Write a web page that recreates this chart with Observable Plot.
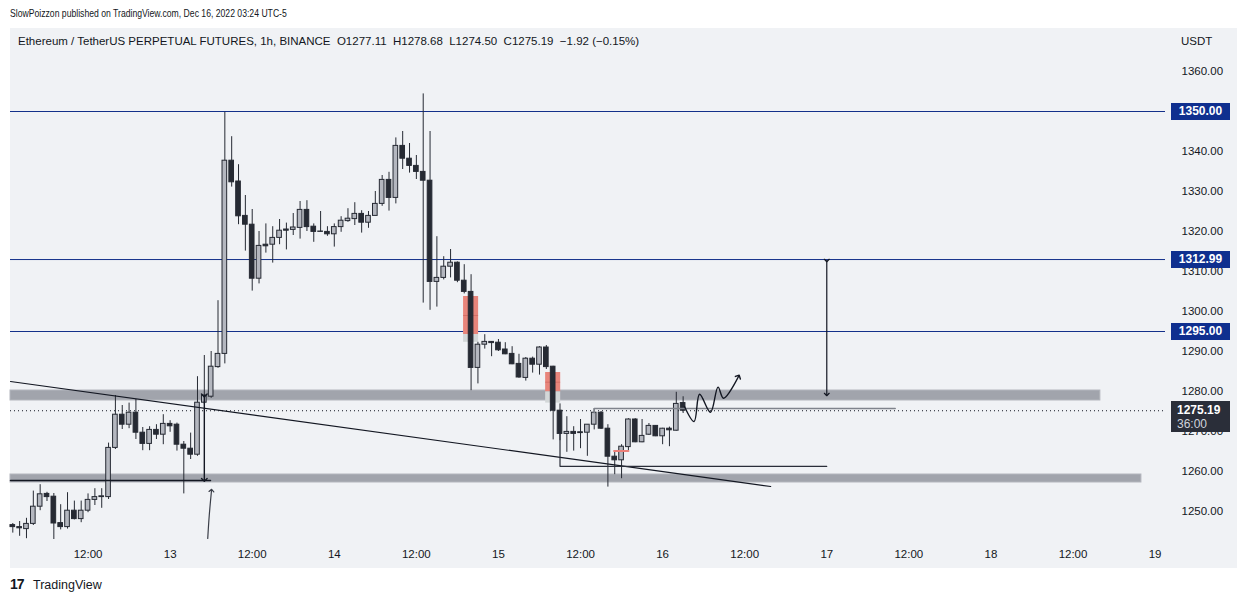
<!DOCTYPE html>
<html><head><meta charset="utf-8">
<script src="https://cdn.jsdelivr.net/npm/d3@7"></script>
<script src="https://cdn.jsdelivr.net/npm/@observablehq/plot@0.6"></script>
<style>
body{margin:0;background:#fff;font-family:"Liberation Sans",Arial,sans-serif;}
#wrap{position:relative;width:1245px;height:602px;overflow:hidden;background:#fff;}
#pub{position:absolute;left:10px;top:7px;font-size:11px;color:#131722;white-space:nowrap;transform:scaleX(0.785);transform-origin:0 0;}
#pane{position:absolute;left:10px;top:28px;width:1227px;height:540px;background:#f0f2f5;}
#chart{position:absolute;left:10px;top:28px;}
#legend{position:absolute;left:18px;top:35px;font-size:11.5px;color:#131722;white-space:nowrap;}
#usdt{position:absolute;left:1181px;top:35px;font-size:11.5px;color:#131722;}
.box{position:absolute;left:1171px;width:59px;color:#fff;font-weight:bold;font-size:12px;text-align:center;box-sizing:border-box;}
#footer{position:absolute;left:10px;top:576px;font-size:12.5px;color:#131722;white-space:nowrap;}
#footer b{display:inline-block;width:23px;font-weight:900;letter-spacing:-1px;font-size:14px;}
</style></head>
<body><div id="wrap">
<div id="pub">SlowPoizzon published on TradingView.com, Dec 16, 2022 03:24 UTC-5</div>
<div id="pane"></div>
<div id="chart"></div>
<div id="legend">Ethereum / TetherUS PERPETUAL FUTURES, 1h, BINANCE&nbsp;&nbsp;O1277.11&nbsp;&nbsp;H1278.68&nbsp;&nbsp;L1274.50&nbsp;&nbsp;C1275.19&nbsp;&nbsp;−1.92 (−0.15%)</div>
<div id="usdt">USDT</div>
<div id="footer"><b>17</b>TradingView</div>
</div>
<script>
// first candle: Dec 12 2022 01:00, hourly candles
const startTime = Date.UTC(2022, 11, 12, 1);
const HOUR = 3600e3;
const opens = [1246.6,1246.1,1245.6,1246.9,1251.2,1254.4,1253.7,1247.1,1246.1,1250.2,1248.1,1250.2,1252.9,1253.6,1253.6,1265.9,1274.2,1271.7,1274.7,1269.7,1266.9,1270.4,1269.2,1271.9,1271.7,1266.7,1265.7,1264.2,1277.2,1278.7,1286.1,1289.4,1337.7,1332.5,1323.9,1321.7,1308.2,1316.7,1316.7,1318.4,1320.5,1320.4,1320.9,1325.4,1321.2,1319.9,1319.9,1319.3,1321.1,1322.6,1323.1,1324.4,1322.2,1323.9,1326.9,1332.9,1328.4,1341.4,1338.2,1336.4,1334.9,1332.7,1307.4,1308.4,1311.2,1312.2,1307.7,1304.9,1285.9,1291.7,1292.4,1292.2,1290.5,1289.4,1286.9,1283.4,1288.2,1286.7,1291.0,1286.2,1275.2,1269.4,1269.9,1269.8,1269.7,1271.7,1274.7,1270.7,1263.7,1262.8,1266.1,1273.0,1267.3,1269.2,1271.4,1268.8,1270.7,1270.2,1277.11];
const highs = [1247.0,1247.5,1248.3,1255.1,1256.7,1254.8,1254.5,1251.7,1254.7,1252.6,1252.6,1254.4,1255.7,1255.7,1267.1,1279.0,1276.5,1277.1,1278.0,1271.0,1271.2,1271.7,1274.2,1272.7,1272.1,1267.5,1269.6,1283.7,1289.0,1290.0,1302.7,1349.8,1343.7,1336.7,1329.0,1325.5,1320.0,1321.9,1321.2,1323.0,1322.1,1324.5,1327.5,1327.7,1321.9,1325.0,1321.2,1321.9,1323.7,1325.7,1327.2,1325.2,1325.0,1330.0,1334.0,1334.8,1343.4,1345.0,1342.0,1339.0,1354.4,1345.0,1318.7,1313.7,1315.5,1312.4,1311.7,1309.2,1292.3,1294.2,1292.5,1293.0,1292.2,1291.2,1289.3,1288.5,1288.6,1291.2,1291.5,1286.3,1276.9,1273.7,1271.2,1273.0,1271.7,1275.7,1275.0,1271.7,1264.8,1266.7,1273.2,1273.2,1273.0,1272.0,1271.5,1270.8,1271.1,1279.8,1278.68];
const lows = [1244.6,1243.8,1243.2,1246.5,1250.2,1252.5,1243.0,1245.4,1245.6,1247.9,1247.2,1249.7,1251.5,1250.8,1253.0,1265.5,1270.5,1270.7,1268.0,1265.2,1265.2,1268.0,1266.7,1269.8,1265.1,1254.4,1263.0,1263.8,1276.8,1278.3,1285.8,1286.9,1331.1,1321.7,1315.1,1305.1,1306.9,1314.6,1312.1,1316.7,1315.4,1319.0,1318.1,1320.0,1317.3,1319.8,1318.8,1316.1,1319.8,1322.3,1321.5,1319.6,1320.8,1323.9,1326.3,1325.1,1326.9,1335.5,1334.6,1333.0,1302.1,1300.3,1301.1,1307.9,1308.4,1307.2,1304.4,1280.2,1281.9,1290.6,1288.7,1290.0,1289.2,1286.7,1283.3,1282.6,1284.6,1284.1,1285.5,1267.9,1267.7,1264.8,1265.1,1265.7,1263.8,1270.4,1270.5,1256.1,1259.2,1258.2,1265.2,1267.2,1267.2,1269.0,1268.7,1266.7,1266.2,1270.1,1274.50];
const closes = [1246.1,1245.8,1246.9,1251.2,1254.3,1253.6,1247.0,1246.1,1250.2,1248.1,1250.2,1252.9,1253.6,1253.8,1265.9,1274.2,1271.7,1274.7,1269.7,1266.9,1270.4,1269.2,1271.9,1271.3,1266.7,1265.7,1264.2,1277.2,1279.0,1286.2,1289.4,1337.7,1332.3,1323.8,1321.7,1308.2,1316.4,1316.3,1318.4,1320.2,1320.2,1321.0,1325.4,1321.1,1319.9,1320.0,1319.3,1321.1,1322.7,1323.2,1324.4,1322.2,1323.9,1326.9,1332.9,1328.4,1341.4,1338.2,1336.4,1334.9,1332.7,1307.4,1308.4,1311.2,1312.2,1307.7,1304.9,1285.9,1291.7,1292.4,1292.1,1290.3,1289.3,1286.8,1283.5,1288.2,1286.7,1291.0,1286.1,1275.2,1269.4,1269.9,1269.4,1269.6,1271.7,1274.7,1270.7,1263.7,1262.8,1266.2,1273.0,1267.3,1268.9,1271.4,1268.8,1270.7,1270.3,1276.9,1275.19];

// x axis ticks
const tickHours = [11,23,35,47,59,71,83,95,107,119,131,143,155,167];
const tickLabels = ["12:00","13","12:00","14","12:00","15","12:00","16","12:00","17","12:00","18","12:00","19"];
// 1350.00 tick is covered by its level label in the reference
const priceTicks = [1250,1260,1270,1280,1290,1300,1310,1320,1330,1340,1360];

// horizontal levels
const levels = [1350, 1312.99, 1295];
const levelLabels = ["1350.00","1312.99","1295.00"];
const lastPrice = 1275.19;
const countdown = "36:00";

// zones (hour offsets from first candle, prices)
const bandStartH = [-0.336, -0.336];
const bandEndH = [159, 165];
const bandLow = [1277.75, 1257.25];
const bandHigh = [1280.25, 1259.25];

const redBoxStartH = [65.9, 77.9];
const redBoxEndH = [68.1, 80.1];
const redBoxTop = [1303.75, 1284.75];
const redBoxMid = [1294.25, 1279.9];
const redBoxBottom = [1292.3, 1277.1];

// drawings (hour offset, price)
const trendH = [-0.34, 110.8], trendP = [1282.5, 1256.25];
const lowLineH = [-0.34, 28.9], lowLineP = [1257.75, 1257.75];
const arrow1H = [28.0, 28.0], arrow1P = [1279.0, 1257.9];
const curveH = [28.5, 28.72, 29.05], curveP = [1243.25, 1249.0, 1255.25];
const arrow2H = [119, 119], arrow2P = [1312.75, 1279.25];
const grayBracketH = [85, 85, 129], grayBracketP = [1274.7, 1275.75, 1275.75];
const blackBracketH = [80, 80, 119], blackBracketP = [1269.4, 1261.3, 1261.3];
const redSegH = [87.9, 90.0], redSegP = [1265.1, 1265.1];
const waveH = [98.2, 99.6, 100.4, 102.0, 103.1, 103.9, 106.1];
const waveP = [1276.25, 1272.5, 1279.3, 1274.8, 1281.1, 1278.3, 1283.75];

const T = h => new Date(startTime + h * HOUR);
const pts = (H, P) => H.map((h, i) => ({t: T(h), p: P[i]}));

const candles = opens.map((o, i) => ({t: T(i), o, h: highs[i], l: lows[i], c: closes[i], up: closes[i] >= o}));
const bands = bandStartH.map((s, i) => ({x1: T(s), x2: T(bandEndH[i]), y1: bandLow[i], y2: bandHigh[i]}));
const redBoxes = redBoxStartH.map((s, i) => ({x1: T(s), x2: T(redBoxEndH[i]), top: redBoxTop[i], mid: redBoxMid[i], bot: redBoxBottom[i], m: (redBoxTop[i] + redBoxMid[i]) / 2}));

const DARK = "#262a33", UP = "#b4b7bf", NAVY = "#13308a", INK = "#131722";
const halfW = 0.34 * HOUR;

const chart = Plot.plot({
  width: 1227, height: 540,
  marginLeft: 0, marginRight: 72, marginTop: 0, marginBottom: 28,
  style: {background: "transparent", fontFamily: "Liberation Sans, Arial, sans-serif", fontSize: "11.5px", color: INK, overflow: "visible"},
  x: {type: "utc", domain: [T(-0.336), T(168.52)]},
  y: {domain: [1242.75, 1370.75]},
  marks: [
    Plot.rect(bands, {x1: "x1", x2: "x2", y1: "y1", y2: "y2", fill: "#a1a4ac", stroke: "#b3b6bd", strokeWidth: 1}),
    Plot.ruleY(levels, {stroke: NAVY, strokeWidth: 1}),
    Plot.ruleY([lastPrice], {stroke: INK, strokeDasharray: "1,3", strokeWidth: 1}),
    Plot.rect(redBoxes, {x1: "x1", x2: "x2", y1: "mid", y2: "top", fill: "#e8857b"}),
    Plot.rect(redBoxes, {x1: "x1", x2: "x2", y1: "bot", y2: "mid", fill: "#d3d7d8"}),
    Plot.ruleY(redBoxes, {x1: "x1", x2: "x2", y: "m", stroke: "#c9605a", strokeWidth: 1, strokeOpacity: 0.6}),
    Plot.ruleX(candles, {x: "t", y1: "l", y2: "h", stroke: DARK, strokeWidth: 1}),
    Plot.rect(candles.filter(d => d.up), {x1: d => new Date(+d.t - halfW), x2: d => new Date(+d.t + halfW), y1: "o", y2: "c", fill: UP, stroke: DARK, strokeWidth: 1}),
    Plot.rect(candles.filter(d => !d.up), {x1: d => new Date(+d.t - halfW), x2: d => new Date(+d.t + halfW), y1: "o", y2: "c", fill: DARK, stroke: DARK, strokeWidth: 1}),
    Plot.line(pts(trendH, trendP), {x: "t", y: "p", stroke: INK, strokeWidth: 1.2}),
    Plot.line(pts(lowLineH, lowLineP), {x: "t", y: "p", stroke: INK, strokeWidth: 1.5}),
    Plot.line(pts(arrow1H, arrow1P), {x: "t", y: "p", stroke: INK, strokeWidth: 1.4, markerStart: "arrow", markerEnd: "arrow"}),
    Plot.line(pts(curveH, curveP), {x: "t", y: "p", stroke: "#3a3e48", strokeWidth: 1.2, curve: "natural", markerEnd: "arrow"}),
    Plot.line(pts(arrow2H, arrow2P), {x: "t", y: "p", stroke: INK, strokeWidth: 1.2, markerStart: "arrow", markerEnd: "arrow"}),
    Plot.line(pts(grayBracketH, grayBracketP), {x: "t", y: "p", stroke: "#7f838c", strokeWidth: 1.6}),
    Plot.line(pts(blackBracketH, blackBracketP), {x: "t", y: "p", stroke: "#2a2e39", strokeWidth: 1.2}),
    Plot.line(pts(redSegH, redSegP), {x: "t", y: "p", stroke: "#ec7f78", strokeWidth: 2}),
    Plot.line(pts(waveH, waveP), {x: "t", y: "p", stroke: INK, strokeWidth: 1.4, curve: "catmull-rom", markerEnd: "arrow"}),
    Plot.axisX({ticks: tickHours.map(T), tickFormat: (d, i) => tickLabels[i], tickSize: 0, tickPadding: 9}),
    Plot.axisY({anchor: "right", ticks: priceTicks, tickFormat: d => d.toFixed(2), tickSize: 0, tickPadding: 16, label: null})
  ]
});
document.getElementById("chart").appendChild(chart);

// price-axis labels placed through the chart's y scale
const ys = chart.scale("y");
const wrap = document.getElementById("wrap");
levels.forEach((v, i) => {
  const y = 28 + ys.apply(v);
  const b = document.createElement("div");
  b.className = "box";
  b.style.top = (y - 8.5) + "px";
  b.style.height = "17px";
  b.style.lineHeight = "17px";
  b.style.background = "#0f2f8f";
  b.textContent = levelLabels[i];
  wrap.appendChild(b);
});
{
  const y = 28 + ys.apply(lastPrice);
  const b = document.createElement("div");
  b.className = "box";
  b.style.top = (y - 9) + "px";
  b.style.height = "31px";
  b.style.background = "#2a2e39";
  b.style.lineHeight = "14px";
  b.style.paddingTop = "2px";
  b.style.textAlign = "left";
  b.style.paddingLeft = "6px";
  b.innerHTML = lastPrice.toFixed(2) + '<br><span style="font-weight:normal;color:#d1d4dc">' + countdown + '</span>';
  wrap.appendChild(b);
}
</script>
</body></html>
